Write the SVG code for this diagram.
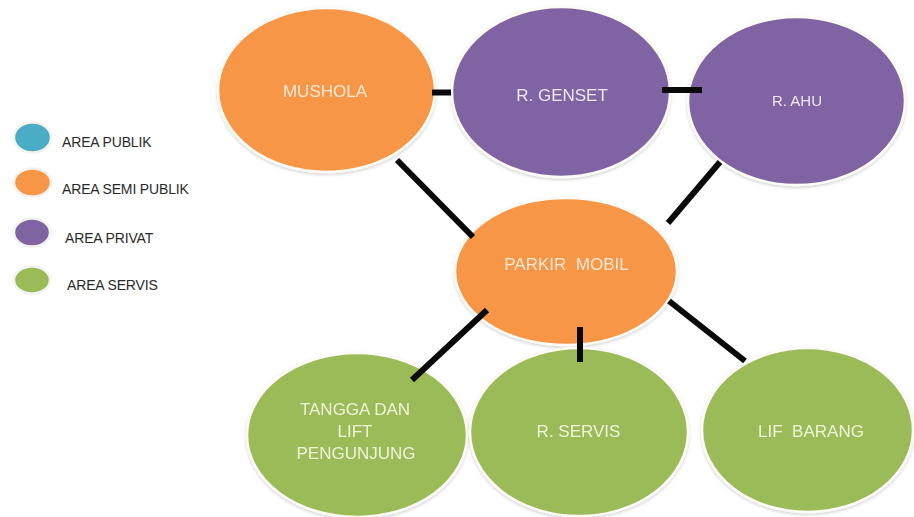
<svg xmlns="http://www.w3.org/2000/svg" width="914" height="517" viewBox="0 0 914 517">
  <style>
    .bg { fill: #ffffff; }
    .node { stroke: #fdfbf5; stroke-width: 2.5; }
    .publik { fill: #4bacc6; }
    .semi { fill: #f79646; }
    .privat { fill: #8064a2; }
    .servis { fill: #9bbb59; }
    .key { stroke: #f2f2ee; stroke-width: 2.5; }
    .legend-text { font-family: "Liberation Sans", Arial, sans-serif; font-size: 14px; fill: #2a2a2a; letter-spacing: -0.15px; }
    .label { font-family: "Liberation Sans", Arial, sans-serif; font-size: 17px; text-anchor: middle; white-space: pre; }
    .on-semi { fill: #fde9d4; }
    .on-privat { fill: #ece6f5; }
    .on-servis { fill: #eef5d8; }
    .link { stroke: #0a0a0a; stroke-width: 6; stroke-linecap: butt; fill: none; }
  </style>
  <defs>
    <filter id="soft" x="-10%" y="-10%" width="120%" height="125%">
      <feDropShadow dx="0" dy="1.5" stdDeviation="1.5" flood-color="#000" flood-opacity="0.18"/>
    </filter>
  </defs>

  <rect class="bg" x="0" y="0" width="914" height="517"/>

  <!-- legend -->
  <g id="legend">
    <ellipse class="key publik" cx="32.5" cy="137.5" rx="18.5" ry="15"/>
    <text class="legend-text" x="62" y="147">AREA PUBLIK</text>
    <ellipse class="key semi" cx="32.5" cy="182.5" rx="18.5" ry="14"/>
    <text class="legend-text" x="62" y="194">AREA SEMI PUBLIK</text>
    <ellipse class="key privat" cx="32" cy="232.5" rx="18" ry="14"/>
    <text class="legend-text" x="65" y="243">AREA PRIVAT</text>
    <ellipse class="key servis" cx="32" cy="280" rx="18" ry="13.5"/>
    <text class="legend-text" x="67" y="290">AREA SERVIS</text>
  </g>

  <!-- rooms -->
  <g id="mushola" filter="url(#soft)">
    <ellipse class="node semi" cx="326.5" cy="90" rx="108.5" ry="82"/>
    <text class="label on-semi" x="325" y="97">MUSHOLA</text>
  </g>
  <g id="r-genset" filter="url(#soft)">
    <ellipse class="node privat" cx="561" cy="92" rx="109" ry="85"/>
    <text class="label on-privat" x="562" y="101">R. GENSET</text>
  </g>
  <g id="r-ahu" filter="url(#soft)">
    <ellipse class="node privat" cx="796.5" cy="101" rx="108.5" ry="84"/>
    <text class="label on-privat" x="797" y="106" style="font-size:15px">R. AHU</text>
  </g>
  <g id="parkir-mobil" filter="url(#soft)">
    <ellipse class="node semi" cx="566" cy="271.5" rx="111" ry="73.5"/>
    <text class="label on-semi" x="566.5" y="270">PARKIR  MOBIL</text>
  </g>
  <g id="tangga-lift" filter="url(#soft)">
    <ellipse class="node servis" cx="357" cy="435" rx="110" ry="82"/>
    <text class="label on-servis" x="355" y="415">TANGGA DAN</text>
    <text class="label on-servis" x="355" y="437">LIFT</text>
    <text class="label on-servis" x="356" y="459">PENGUNJUNG</text>
  </g>
  <g id="r-servis" filter="url(#soft)">
    <ellipse class="node servis" cx="579" cy="432" rx="109" ry="84"/>
    <text class="label on-servis" x="578.5" y="437">R. SERVIS</text>
  </g>
  <g id="lif-barang" filter="url(#soft)">
    <ellipse class="node servis" cx="807.5" cy="430" rx="105.5" ry="82"/>
    <text class="label on-servis" x="811" y="437">LIF  BARANG</text>
  </g>

  <!-- connectors -->
  <g id="connectors">
    <line class="link" x1="432" y1="92.5" x2="451" y2="92.5"/>
    <line class="link" x1="662" y1="90" x2="702" y2="90"/>
    <line class="link" x1="397" y1="160" x2="473" y2="237"/>
    <line class="link" x1="720" y1="162" x2="668" y2="223"/>
    <line class="link" x1="487" y1="310" x2="412" y2="380"/>
    <line class="link" x1="580" y1="327" x2="580" y2="362"/>
    <line class="link" x1="669" y1="301" x2="745" y2="361"/>
  </g>
</svg>
